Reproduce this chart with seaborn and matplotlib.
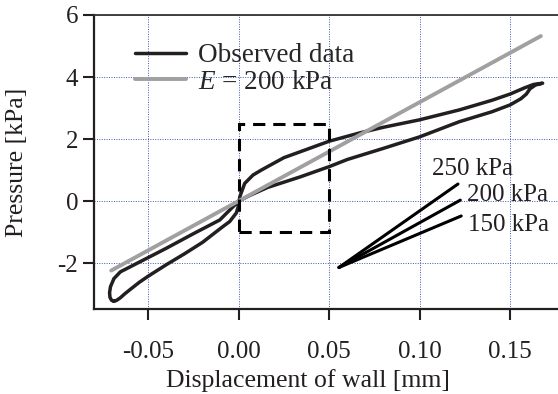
import pandas as pd
import seaborn as sns
import matplotlib.pyplot as plt
from matplotlib.patches import Rectangle

# observed hysteresis loop, loading branch then unloading branch
load_x = [-0.0690, -0.0675, -0.0655, -0.063, -0.060, -0.055, -0.050, -0.040, -0.030,
          -0.020, -0.0105, -0.0087, -0.005, -0.0013, 0.0, 0.0006, 0.0033, 0.0079,
          0.0125, 0.0153, 0.025, 0.034, 0.050, 0.067, 0.080, 0.100, 0.122, 0.140,
          0.150, 0.158, 0.163, 0.168]
load_y = [-3.23, -3.20, -3.12, -2.99, -2.85, -2.62, -2.42, -2.05, -1.70,
          -1.33, -0.90, -0.82, -0.66, -0.38, -0.12, 0.14, 0.57, 0.84,
          1.00, 1.09, 1.40, 1.59, 1.93, 2.20, 2.38, 2.62, 2.94, 3.25,
          3.45, 3.65, 3.76, 3.80]
unload_x = [0.168, 0.164, 0.161, 0.159, 0.156, 0.150, 0.140, 0.122, 0.100, 0.080,
            0.060, 0.050, 0.034, 0.016, 0.006, 0.0, -0.0105, -0.025, -0.040,
            -0.050, -0.0547, -0.060, -0.0654, -0.0690, -0.0709, -0.0714, -0.0712,
            -0.0703, -0.0690]
unload_y = [3.80, 3.74, 3.62, 3.45, 3.30, 3.10, 2.88, 2.56, 2.07, 1.70,
            1.34, 1.11, 0.78, 0.44, 0.18, 0.0, -0.61, -1.05, -1.52,
            -1.82, -1.96, -2.12, -2.28, -2.50, -2.76, -2.95, -3.10,
            -3.20, -3.23]

# linear model E = 200 kPa
model_x = [-0.0705, 0.167]
model_y = [-2.24, 5.32]

# fan of reference slopes
fan_x0, fan_y0 = 0.0554, -2.14
fan_labels = ["250 kPa", "200 kPa", "150 kPa"]
fan_end_x = [0.1212, 0.1225, 0.123]
fan_end_y = [0.55, 0.03, -0.48]
fan_text_x = [0.107, 0.126, 0.127]
fan_text_y = [1.03, 0.19, -0.77]

# zoom box
box_x = [0.0, 0.05]
box_y = [-1.0, 2.5]

xticks = [-0.05, 0.0, 0.05, 0.10, 0.15]
yticks = [-2, 0, 2, 4, 6]

sns.set_style("ticks")
plt.rcParams["font.family"] = ["Liberation Serif", "DejaVu Serif"]
plt.rcParams["mathtext.fontset"] = "custom"
plt.rcParams["mathtext.rm"] = "Liberation Serif"
plt.rcParams["mathtext.it"] = "Liberation Serif:italic"

obs = pd.DataFrame({"x": load_x + unload_x, "y": load_y + unload_y})
model = pd.DataFrame({"x": model_x, "y": model_y})

fig = plt.figure(figsize=(5.58, 3.94), dpi=100)
ax = fig.add_axes([0.1685, 0.2157, 0.8315, 0.7463])

ax.grid(True, color="#3f55b5", linestyle=(0, (1, 1.5)), linewidth=0.7)
ax.set_axisbelow(True)

sns.lineplot(data=obs, x="x", y="y", sort=False, color="#231f20", lw=2.5,
             ax=ax, label="Observed data", estimator=None,
             solid_joinstyle="round", solid_capstyle="round")
sns.lineplot(data=model, x="x", y="y", sort=False, color="#a0a0a0", lw=2.8,
             ax=ax, label="$E$ = 200 kPa", estimator=None)

ax.add_patch(Rectangle((box_x[0], box_y[0]), box_x[1] - box_x[0],
                       box_y[1] - box_y[0], fill=False, ec="black", lw=2.2,
                       linestyle=(0, (4, 2.6)), zorder=3))

for ex, ey, lab, tx, ty in zip(fan_end_x, fan_end_y, fan_labels, fan_text_x, fan_text_y):
    ax.plot([fan_x0, ex], [fan_y0, ey], color="black", lw=2.2)
    ax.text(tx, ty, lab, fontsize=18, va="center", ha="left", color="#231f20")

ax.set_xlim(-0.08, 0.1765)
ax.set_ylim(-3.48, 6)
ax.set_xticks(xticks)
ax.set_xticklabels([f"{t:.2f}" for t in xticks])
ax.set_yticks(yticks)
ax.set_yticklabels([str(t) for t in yticks])
ax.tick_params(direction="out", length=8, width=1.5, labelsize=18, colors="#231f20")
ax.tick_params(axis="x", pad=15)
for s in ["left", "bottom"]:
    ax.spines[s].set_linewidth(1.6)
    ax.spines[s].set_color("#231f20")
ax.spines["top"].set_linewidth(1.3)
ax.spines["top"].set_color("#333333")
ax.spines["right"].set_visible(False)

ax.set_xlabel("Displacement of wall [mm]", fontsize=18.5, color="#231f20")
ax.xaxis.set_label_coords(0.461, -0.205)
ax.set_ylabel("Pressure [kPa]", fontsize=18.5, color="#231f20")
ax.yaxis.set_label_coords(-0.142, 0.5)

ax.legend(loc="upper left", bbox_to_anchor=(0.064, 0.94), frameon=False,
          fontsize=19.5, handlelength=1.9, handletextpad=0.45, labelspacing=0.05,
          borderaxespad=0)

fig.savefig("out.png", dpi=100)
